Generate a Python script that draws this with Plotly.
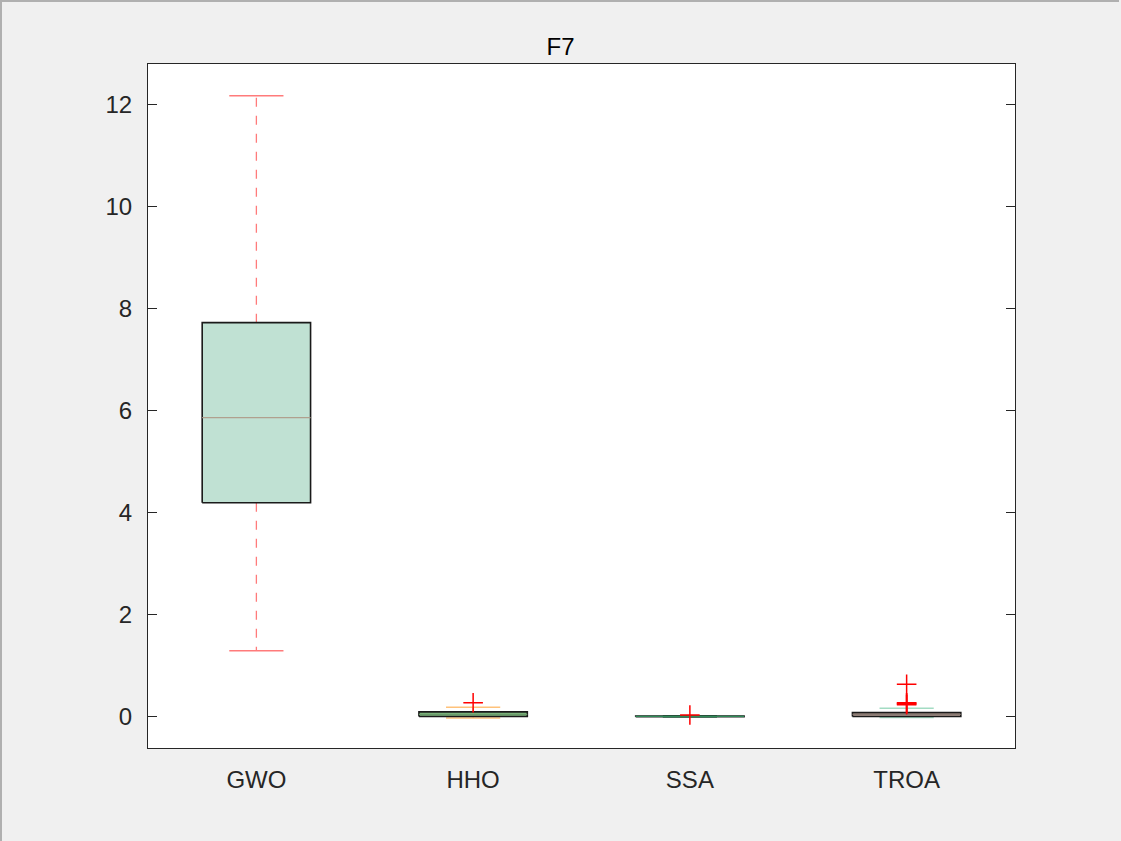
import plotly.graph_objects as go

categories = ["GWO", "HHO", "SSA", "TROA"]
q1 = [4.20, 0.01, 0.004, 0.01]
median = [5.87, 0.05, 0.01, 0.05]
q3 = [7.73, 0.10, 0.02, 0.085]
lower_whisker = [1.30, -0.02, 0.0, -0.01]
upper_whisker = [12.18, 0.19, 0.025, 0.17]
outliers = [[], [0.28], [0.04], [0.24, 0.255, 0.27, 0.28, 0.64]]

box_fill = ["#c0e1d3", "#7fb77e", "#5aae84", "#b59e95"]
whisker_color = ["#ff7b7b", "#ffc27a", "#4caf7c", "#a3dcc3"]
median_color = ["#b0a08e", "#6a9a6a", "#2e8b57", "#8a7a72"]

box_half = 0.25
cap_half = 0.125

fig = go.Figure()
for i, name in enumerate(categories):
    x = i + 1
    fig.add_trace(go.Scatter(x=[x, x], y=[q3[i], upper_whisker[i]], mode="lines",
                             line=dict(color=whisker_color[i], width=1.3, dash="dash"),
                             hoverinfo="skip", showlegend=False))
    fig.add_trace(go.Scatter(x=[x, x], y=[q1[i], lower_whisker[i]], mode="lines",
                             line=dict(color=whisker_color[i], width=1.3, dash="dash"),
                             hoverinfo="skip", showlegend=False))
    for yv in (upper_whisker[i], lower_whisker[i]):
        fig.add_trace(go.Scatter(x=[x - cap_half, x + cap_half], y=[yv, yv], mode="lines",
                                 line=dict(color=whisker_color[i], width=1.5),
                                 hoverinfo="skip", showlegend=False))
    fig.add_trace(go.Scatter(x=[x - box_half, x + box_half, x + box_half, x - box_half, x - box_half],
                             y=[q1[i], q1[i], q3[i], q3[i], q1[i]], mode="lines",
                             fill="toself", fillcolor=box_fill[i],
                             line=dict(color="#1a1a1a", width=1.6),
                             hoverinfo="skip", showlegend=False))
    fig.add_trace(go.Scatter(x=[x - box_half, x + box_half], y=[median[i], median[i]], mode="lines",
                             line=dict(color=median_color[i], width=1.3),
                             hoverinfo="skip", showlegend=False))
    if outliers[i]:
        fig.add_trace(go.Scatter(x=[x] * len(outliers[i]), y=outliers[i], mode="markers",
                                 marker=dict(symbol="cross-thin", size=14,
                                             line=dict(color="#ff0000", width=1.5)),
                                 hoverinfo="skip", showlegend=False))

font_family = "Liberation Sans, Arial, Helvetica, sans-serif"
fig.update_layout(
    width=1121, height=841,
    margin=dict(l=148, r=106, t=64, b=93),
    paper_bgcolor="#f0f0f0", plot_bgcolor="#ffffff",
    title=dict(text="F7", x=0.5, xanchor="center", y=1 - 47 / 841, yanchor="middle",
               font=dict(family=font_family, size=24, color="#000000")),
    font=dict(family=font_family, size=24, color="#262626"),
    showlegend=False,
    xaxis=dict(range=[0.5, 4.5], tickvals=[1, 2, 3, 4], ticktext=categories,
               showgrid=False, zeroline=False, showline=True, linecolor="#262626",
               linewidth=1, mirror=True, ticks="", ticklabelstandoff=10,
               tickfont=dict(size=24, color="#262626")),
    yaxis=dict(range=[-0.608, 12.80], tickvals=[0, 2, 4, 6, 8, 10, 12],
               showgrid=False, zeroline=False, showline=True, linecolor="#262626",
               linewidth=1, mirror="ticks", ticks="inside", ticklen=9,
               tickcolor="#262626", tickwidth=1, ticklabelstandoff=10,
               tickfont=dict(size=24, color="#262626")),
    shapes=[
        dict(type="line", xref="paper", yref="paper", x0=-147 / 867, x1=-147 / 867,
             y0=-93 / 684, y1=(684 + 64) / 684, line=dict(color="#b0b0b0", width=2)),
        dict(type="line", xref="paper", yref="paper", x0=-148 / 867, x1=(867 + 104) / 867,
             y0=(684 + 63) / 684, y1=(684 + 63) / 684, line=dict(color="#b0b0b0", width=2)),
    ],
)

fig.write_html("out.html")
